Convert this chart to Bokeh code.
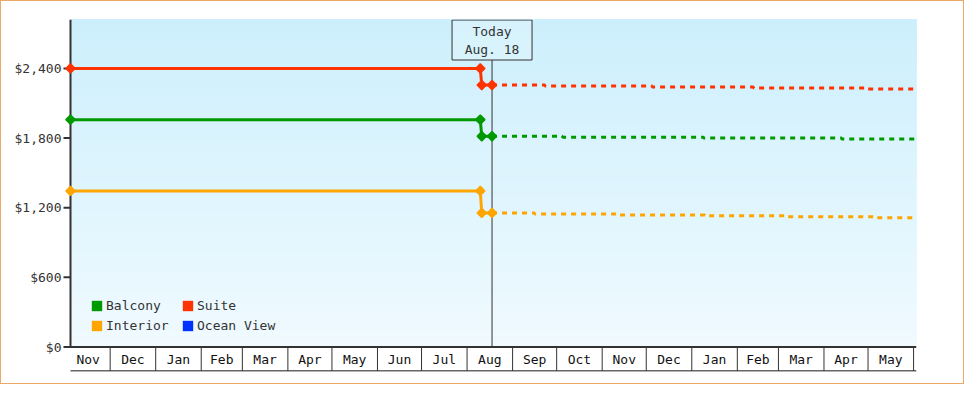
import numpy as np
import pandas as pd
from bokeh.plotting import figure
from bokeh.models import (Range1d, FixedTicker, NumeralTickFormatter, Legend,
                          LegendItem)
from bokeh.core.properties import value
from bokeh.embed import file_html
from bokeh.resources import INLINE

FONT = "DejaVu Sans Mono"

# ---------------- data ----------------
series_names = ["Balcony", "Suite", "Interior", "Ocean View"]
series_colors = ["#009900", "#ff3300", "#ffa500", "#0033ff"]

hist_dates = ["2021-11-04", "2022-08-10", "2022-08-11", "2022-08-18"]
balcony_hist = [1959, 1959, 1816, 1816]
suite_hist = [2400, 2400, 2257, 2257]
interior_hist = [1345, 1345, 1155, 1155]

balcony_fc_dates = ["2022-08-18", "2022-10-05", "2023-01-09", "2023-04-13", "2023-06-03"]
balcony_fc = [1816, 1808, 1800, 1792, 1792]
suite_fc_dates = ["2022-08-18", "2022-09-23", "2022-12-05", "2023-02-12", "2023-04-30", "2023-06-03"]
suite_fc = [2257, 2249, 2240, 2232, 2224, 2224]
interior_fc_dates = ["2022-08-18", "2022-09-16", "2022-11-12", "2023-01-10", "2023-03-07",
                     "2023-05-06", "2023-06-03"]
interior_fc = [1155, 1147, 1138, 1130, 1122, 1114, 1114]

y_ticks = [0, 600, 1200, 1800, 2400]
month_labels = ["Nov", "Dec", "Jan", "Feb", "Mar", "Apr", "May", "Jun", "Jul", "Aug",
                "Sep", "Oct", "Nov", "Dec", "Jan", "Feb", "Mar", "Apr", "May"]
first_month = "2021-11-01"
today = "2022-08-18"
today_text = ["Today", "Aug. 18"]
x_start, x_end = "2021-11-04", "2023-06-03"
y_top = 2822


def ms(s):
    return pd.Timestamp(s).value / 1e6


def ms_list(lst):
    return [ms(s) for s in lst]


# ---------------- layout constants ----------------
PLOT_W = 846                # width of the shaded plotting area
LEFT_PAD = 8                # extra frame room left of the axis (for edge markers)
FRAME_H = 352
ZERO_PX = 327.5             # px from frame top to the $0 line
BAND_H = 24                 # month band height below the $0 line
TICK = 7
upp = y_top / ZERO_PX       # data units per pixel (y)
y_min = y_top - FRAME_H * upp
X0, X1 = ms(x_start), ms(x_end)
xpp = (X1 - X0) / PLOT_W    # ms per pixel (x)
X_LO = X0 - LEFT_PAD * xpp

p = figure(frame_width=PLOT_W + LEFT_PAD, frame_height=FRAME_H,
           x_range=Range1d(X_LO, X1), y_range=Range1d(y_min, y_top),
           x_axis_location=None, y_axis_location="left",
           output_backend="svg", toolbar_location=None, tools="",
           min_border_left=69 - LEFT_PAD, min_border_right=47, min_border_top=18,
           min_border_bottom=12)
p.outline_line_color = None
p.background_fill_color = "white"
p.border_fill_color = "white"
p.grid.visible = False
p.styles = {"border": "1px solid #eba866"}

# y axis (labels from bokeh, line and ticks drawn at the plot edge)
ya = p.yaxis[0]
ya.ticker = FixedTicker(ticks=y_ticks)
ya.formatter = NumeralTickFormatter(format="$0,0")
ya.axis_line_color = None
ya.major_tick_line_color = None
ya.minor_tick_line_color = None
ya.major_tick_in = 0
ya.major_tick_out = 0
ya.major_label_standoff = 1
ya.major_label_text_font = FONT
ya.major_label_text_font_size = "13px"
ya.major_label_text_color = "#333333"

# background gradient over the plotting area (stacked quads, no seams)
N = 170
ys = np.linspace(0, y_top, N + 1)[:-1]
t = ys / y_top
bot = np.array([240, 250, 255])
top = np.array([204, 239, 252])
cols = ["#%02x%02x%02x" % tuple(np.round(bot + (top - bot) * ti).astype(int)) for ti in t]
p.quad(left=[X0] * N, right=[X1] * N, bottom=ys, top=[y_top] * N,
       fill_color=cols, line_color=None)

# axis line and ticks
p.segment(x0=[X0], x1=[X0], y0=[0], y1=[y_top], line_color="#333333", line_width=2)
p.segment(x0=[X0 - TICK * xpp] * len(y_ticks), x1=[X0] * len(y_ticks), y0=y_ticks, y1=y_ticks,
          line_color="#333333", line_width=2)

# month band below the plot
months = pd.date_range(first_month, periods=len(month_labels) + 1, freq="MS")
m_ms = np.array([m.value / 1e6 for m in months])
band_bottom = y_top - (ZERO_PX + BAND_H) * upp
band_mid = y_top - (ZERO_PX + BAND_H / 2 + 0.5) * upp
bounds_ms = [b for b in m_ms if X0 < b < X1]
p.segment(x0=bounds_ms, x1=bounds_ms, y0=[0] * len(bounds_ms), y1=[band_bottom] * len(bounds_ms),
          line_color="#333333", line_width=1)
p.segment(x0=[X0 - xpp, X0], x1=[X1, X1], y0=[0, band_bottom], y1=[0, band_bottom],
          line_color="#333333", line_width=[2, 1.5])
centers = (m_ms[:-1] + m_ms[1:]) / 2
p.text(x=centers, y=[band_mid] * len(centers), text=month_labels,
       text_align="center", text_baseline="middle", text_font=value(FONT),
       text_font_size="13px", text_color="#111111")

# today marker line
T = ms(today)
p.segment(x0=[T], x1=[T], y0=[0], y1=[y_top - 40.5 * upp], line_color="#333333", line_width=1)

# series
hist = [balcony_hist, suite_hist, interior_hist]
fc_dates = [balcony_fc_dates, suite_fc_dates, interior_fc_dates]
fc_vals = [balcony_fc, suite_fc, interior_fc]
for h, fd, fv, c in zip(hist, fc_dates, fc_vals, series_colors[:3]):
    p.step(x=ms_list(fd), y=fv, mode="after", line_color=c, line_width=3, line_dash="5 5")
    p.line(x=ms_list(hist_dates), y=h, line_color=c, line_width=3)
    p.scatter(x=ms_list(hist_dates), y=h, marker="square", angle=np.pi / 4, size=6.5,
              fill_color=c, line_color=c, line_width=1.5)

# today box
p.rect(x=[T], y=[y_top - 20.5 * upp], width=80, height=40, width_units="screen",
       height_units="screen", fill_color="white", fill_alpha=0.2,
       line_color="#333333", line_width=1)
p.text(x=[T, T], y=[y_top - 11.5 * upp, y_top - 29.5 * upp], text=today_text,
       text_align="center", text_baseline="middle", text_font=value(FONT),
       text_font_size="13px", text_color="#333333")

# legend (degenerate, invisible quads only carry the swatch colours)
rend = {}
for name, c in zip(series_names, series_colors):
    rend[name] = p.quad(left=[X0], right=[X0], top=[0], bottom=[0], fill_color=c,
                        line_color=None)
order = ["Balcony", "Interior", "Suite", "Ocean View"]
legend = Legend(items=[LegendItem(label=n, renderers=[rend[n]]) for n in order],
                location=(20 + LEFT_PAD, 38), orientation="vertical", nrows=2,
                glyph_width=13, glyph_height=13, label_height=14, label_width=70,
                label_standoff=3, spacing=5, padding=0, margin=0,
                background_fill_alpha=0, border_line_color=None,
                label_text_font=FONT, label_text_font_size="13px",
                label_text_color="#333333")
p.add_layout(legend, "center")

open("out.html", "w").write(file_html(p, INLINE))
